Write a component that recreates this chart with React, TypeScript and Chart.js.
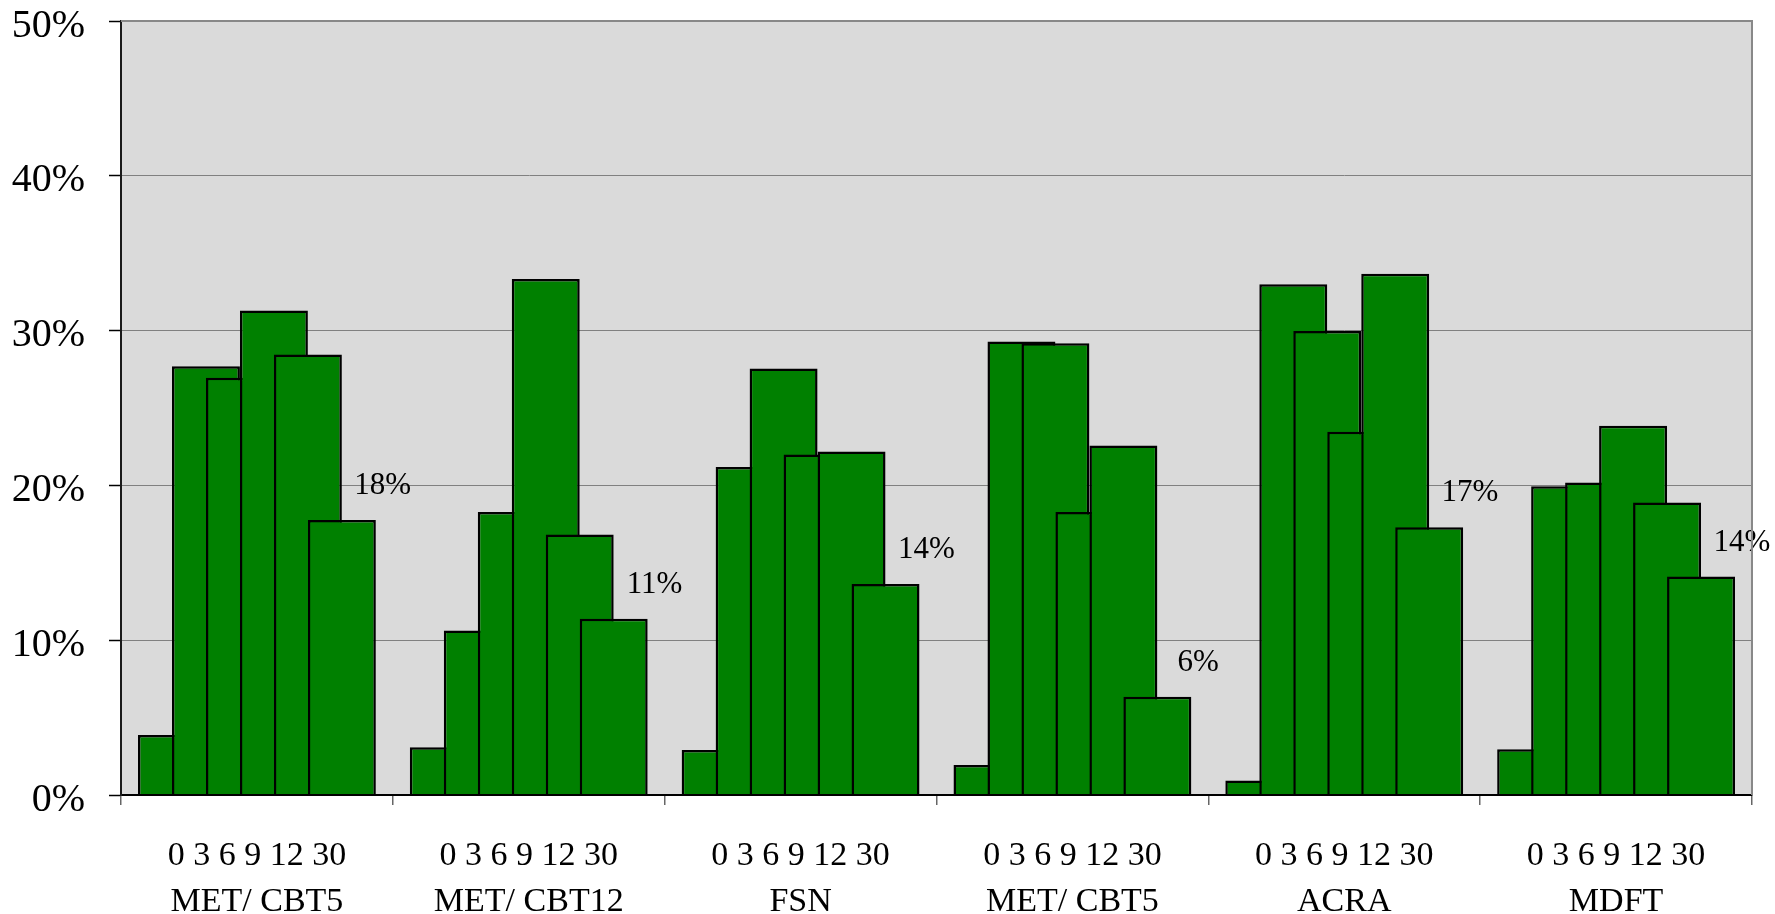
import React, { useEffect, useRef } from 'react';
import { Chart, registerables } from 'chart.js';

Chart.register(...registerables);

// ---- data ----
const groups = ['MET/ CBT5', 'MET/ CBT12', 'FSN', 'MET/ CBT5', 'ACRA', 'MDFT'];
const months = ['0', '3', '6', '9', '12', '30'];
const month0 = [3.87, 3.08, 2.9, 1.94, 0.94, 2.96];
const month3 = [27.7, 10.63, 21.19, 29.3, 33.0, 19.94];
const month6 = [26.96, 18.28, 27.55, 29.18, 29.98, 20.19];
const month9 = [31.3, 33.34, 21.99, 18.28, 23.46, 23.85];
const month12 = [28.46, 16.83, 22.19, 22.58, 33.68, 18.9];
const month30 = [17.76, 11.38, 13.63, 6.34, 17.29, 14.11];
const yTickValues = [0, 10, 20, 30, 40, 50];

const FONT = "'Liberation Serif', 'Times New Roman', serif";

// Build slot table: each group has 8 slots; empty slot, 6 months, empty slot
const seriesByMonth = [month0, month3, month6, month9, month12, month30];
const slotLabels: string[] = [];
const slotValues: (number | null)[] = [];
groups.forEach((g, gi) => {
  slotLabels.push(`${gi}-pre`);
  slotValues.push(null);
  months.forEach((m, mi) => {
    slotLabels.push(`${gi}-${m}`);
    slotValues.push(seriesByMonth[mi][gi]);
  });
  slotLabels.push(`${gi}-post`);
  slotValues.push(null);
});

const plotFrame = {
  id: 'plotFrame',
  beforeDraw(chart: any) {
    const { ctx, chartArea: a } = chart;
    ctx.save();
    ctx.fillStyle = '#dadada';
    ctx.fillRect(a.left, a.top, a.right - a.left, a.bottom - a.top);
    ctx.restore();
  },
  afterDraw(chart: any) {
    const { ctx, chartArea: a } = chart;
    ctx.save();
    ctx.strokeStyle = '#888888';
    ctx.lineWidth = 2;
    ctx.beginPath();
    ctx.moveTo(a.left, a.top);
    ctx.lineTo(a.right, a.top);
    ctx.lineTo(a.right, a.bottom);
    ctx.stroke();
    ctx.restore();
  },
};

const valueLabels = {
  id: 'valueLabels',
  afterDatasetsDraw(chart: any) {
    const { ctx } = chart;
    const meta = chart.getDatasetMeta(0);
    ctx.save();
    ctx.fillStyle = '#000';
    ctx.font = `31px ${FONT}`;
    ctx.textAlign = 'center';
    ctx.textBaseline = 'middle';
    groups.forEach((g, gi) => {
      const el = meta.data[gi * 8 + 6];
      if (!el) return;
      const { x, y, width } = el.getProps(['x', 'y', 'width'], true);
      ctx.fillText(`${Math.round(month30[gi])}%`, x + width * 0.6, y - 34);
    });
    ctx.restore();
  },
};

export default function App() {
  const ref = useRef<HTMLCanvasElement | null>(null);

  useEffect(() => {
    if (!ref.current) return;
    const chart = new Chart(ref.current, {
      type: 'bar',
      data: {
        labels: slotLabels,
        datasets: [
          {
            data: slotValues,
            xAxisID: 'x',
            yAxisID: 'y',
            backgroundColor: '#008000',
            borderColor: '#000000',
            borderWidth: 2.5,
            borderSkipped: 'start',
            barPercentage: 2,
            categoryPercentage: 1,
          },
        ],
      },
      options: {
        responsive: false,
        animation: false,
        layout: { padding: { top: 21, right: 23, left: 0, bottom: 0 } },
        plugins: {
          legend: { display: false },
          tooltip: { enabled: false },
          title: { display: false },
        },
        scales: {
          x: {
            type: 'category',
            display: false,
            offset: true,
            grid: { offset: true },
          },
          x2: {
            type: 'category',
            position: 'bottom',
            labels: groups,
            offset: true,
            afterFit: (scale: any) => {
              scale.height = 119;
              scale.paddingLeft = 0;
              scale.paddingRight = 0;
            },
            grid: {
              offset: true,
              drawOnChartArea: false,
              drawTicks: true,
              tickLength: 10,
              color: '#666666',
              lineWidth: 1.5,
            },
            border: { display: true, color: '#000000', width: 2, z: 1 },
            ticks: {
              autoSkip: false,
              maxRotation: 0,
              padding: 28,
              color: '#000000',
              font: { family: FONT, size: 34, lineHeight: 1.35 },
              callback: (_v: any, i: number) => [months.join(' '), groups[i]],
            },
          },
          y: {
            min: 0,
            max: 50,
            afterFit: (scale: any) => {
              scale.width = 121;
              scale.paddingTop = 0;
              scale.paddingBottom = 0;
            },
            afterBuildTicks: (scale: any) => {
              scale.ticks = yTickValues.map((v) => ({ value: v }));
            },
            grid: {
              color: (c: any) => (c.tick && c.tick.value === 0 ? 'rgba(0,0,0,0)' : '#808080'),
              lineWidth: 1,
              drawTicks: true,
              tickLength: 12,
              tickColor: '#000000',
              tickWidth: 1.5,
            },
            border: { display: true, color: '#1a1a1a', width: 2, z: 1 },
            ticks: {
              padding: 24,
              labelOffset: 5,
              color: '#000000',
              font: { family: FONT, size: 40, lineHeight: 1 },
              callback: (v: any) => `${v}%`,
            },
          },
        },
      },
      plugins: [plotFrame, valueLabels],
    });
    return () => chart.destroy();
  }, []);

  return (
    <canvas
      ref={ref}
      width={1775}
      height={914}
      style={{ position: 'absolute', left: 0, top: 0, display: 'block', width: 1775, height: 914 }}
    />
  );
}
